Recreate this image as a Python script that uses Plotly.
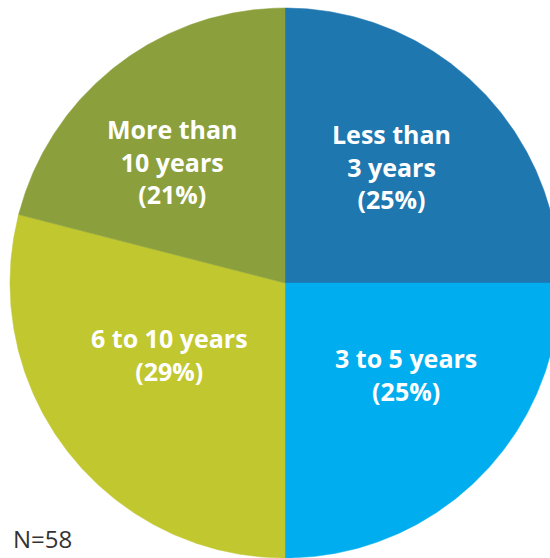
import numpy as np
import plotly.graph_objects as go

# Tenure distribution (percent of respondents, N=58)
categories = ["Less than 3 years", "3 to 5 years", "6 to 10 years", "More than 10 years"]
shares = [25, 25, 29, 21]
label_lines = ["Less than<br>3 years", "3 to 5 years", "6 to 10 years", "More than<br>10 years"]
colors = ["#1F77B0", "#00AEEF", "#C0C72F", "#8BA03D"]
sample_note = "N=58"

W, H = 550, 558
R = 275.0                      # pie radius in pixel units
CX, CY = 0.0, 0.0              # pie centre

fig = go.Figure()

# slices run clockwise from 12 o'clock
start = 0.0
total = float(sum(shares))
mids = []
for cat, val, col in zip(categories, shares, colors):
    sweep = 360.0 * val / total
    theta = np.linspace(start, start + sweep, 200)
    rad = np.deg2rad(theta)
    xs = np.concatenate([[CX], CX + R * np.sin(rad), [CX]])
    ys = np.concatenate([[CY], CY + R * np.cos(rad), [CY]])
    fig.add_trace(go.Scatter(
        x=xs, y=ys, mode="lines", fill="toself",
        fillcolor=col, line=dict(color=col, width=0.5),
        name=cat, hoverinfo="skip", showlegend=False,
    ))
    mids.append(start + sweep / 2)
    start += sweep

# label placement: distance from centre (px) and angle offset for each slice
label_r = [158, 152, 136, 166]
label_shift = [-2.5, -8.0, 6.0, -5.0]
for txt, val, m, r, d in zip(label_lines, shares, mids, label_r, label_shift):
    a = np.deg2rad(m + d)
    fig.add_annotation(
        x=CX + r * np.sin(a), y=CY + r * np.cos(a),
        text=f"<b>{txt}<br>({val}%)</b>",
        showarrow=False, align="center",
        font=dict(family="Open Sans", size=25, color="white"),
    )

fig.add_annotation(
    x=0, y=0, xref="paper", yref="paper", xanchor="left", yanchor="bottom",
    xshift=11, yshift=1,
    text=sample_note, showarrow=False,
    font=dict(family="Open Sans", size=24, color="#333333"),
)

# one axis unit = one pixel; the pie runs past the right and bottom edges
fig.update_xaxes(range=[-285, W - 285], visible=False, fixedrange=True)
fig.update_yaxes(range=[283 - H, 283], visible=False, fixedrange=True)
fig.update_layout(
    width=W, height=H,
    margin=dict(l=0, r=0, t=0, b=0),
    plot_bgcolor="white", paper_bgcolor="white",
    showlegend=False,
)

fig.write_html("out.html")
